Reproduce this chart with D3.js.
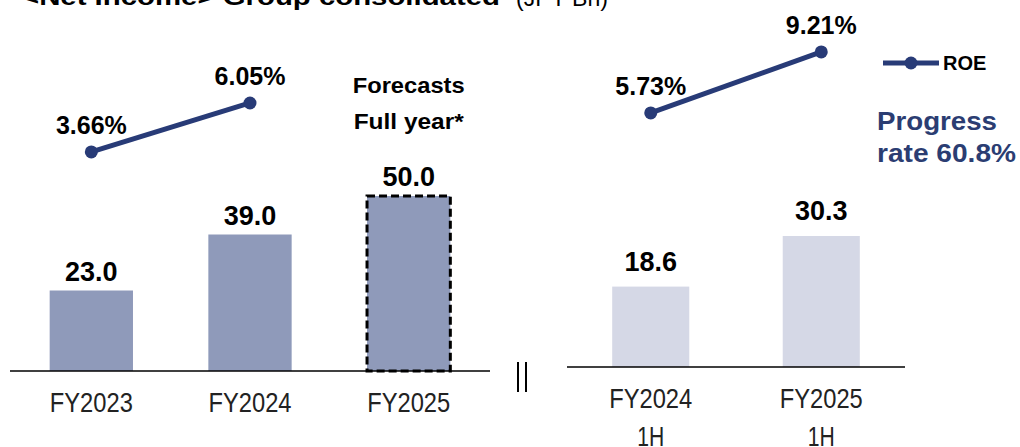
<!DOCTYPE html>
<html>
  <head>
    <meta charset="utf-8">
    <title>Net income</title>
    <style>
      body { margin: 0; background: #fff; }
      text { font-family: "Liberation Sans", Arial, sans-serif; }
    </style>
  </head>
  <body>
    <script src="https://cdn.jsdelivr.net/npm/d3@7"></script>
    <svg id="chart" width="1020" height="447"></svg>
    <script>
      // full year panel
      fullYears = ["FY2023", "FY2024", "FY2025"]
      fullIncome = [23.0, 39.0, 50.0]
      fullRoe = [3.66, 6.05]
      // half year panel
      halfYears = ["FY2024", "FY2025"]
      halfIncome = [18.6, 30.3]
      halfRoe = [5.73, 9.21]

      navy = "#283b77"
      svg = d3.select("#chart")

      // title, clipped at the top like the slide
      svg.append("text").attr("x", 22).attr("y", 5)
        .attr("font-size", 24).attr("font-weight", "bold")
        .attr("textLength", 478).attr("lengthAdjust", "spacingAndGlyphs")
        .text("<Net Income> Group consolidated")
      svg.append("text").attr("x", 516).attr("y", 6)
        .attr("font-size", 22).attr("textLength", 92).attr("lengthAdjust", "spacingAndGlyphs")
        .text("(JPY Bn)")

      function panel(cfg) {
        let x = d3.scaleBand().domain(cfg.cats).range(cfg.xRange)
          .paddingInner(cfg.pi).paddingOuter(cfg.po)
        let y = d3.scaleLinear().domain([0, cfg.yMax]).range([cfg.base, cfg.yTop])
        let r = d3.scaleLinear().domain([0, 10]).range(cfg.roeRange)
        let g = svg.append("g")

        g.selectAll("rect.bar").data(cfg.values).join("rect")
          .attr("class", "bar")
          .attr("x", (d, i) => x(cfg.cats[i]))
          .attr("y", d => y(d))
          .attr("width", x.bandwidth())
          .attr("height", d => cfg.base - y(d))
          .attr("fill", cfg.fill)
          .attr("stroke", (d, i) => cfg.dashed && i == cfg.values.length - 1 ? "#000" : "none")
          .attr("stroke-width", 3)
          .attr("stroke-dasharray", "8,4")

        g.selectAll("text.val").data(cfg.values).join("text")
          .attr("class", "val")
          .attr("x", (d, i) => x(cfg.cats[i]) + x.bandwidth() / 2)
          .attr("y", d => y(d) - cfg.labelGap)
          .attr("text-anchor", "middle")
          .attr("font-size", 27).attr("font-weight", "bold")
          .text(d => d.toFixed(1))

        // baseline
        g.append("line")
          .attr("x1", cfg.xRange[0]).attr("x2", cfg.xRange[1])
          .attr("y1", cfg.base).attr("y2", cfg.base)
          .attr("stroke", "#000").attr("stroke-width", 1.5)

        // category labels
        let cl = g.selectAll("text.cat").data(cfg.cats).join("text")
          .attr("class", "cat")
          .attr("text-anchor", "middle")
          .attr("font-size", 27)
          .attr("fill", "#222")
        cl.append("tspan")
          .attr("x", d => x(d) + x.bandwidth() / 2)
          .attr("y", cfg.base + cfg.catGap)
          .attr("textLength", 83).attr("lengthAdjust", "spacingAndGlyphs")
          .text(d => d)
        if (cfg.sub) {
          cl.append("tspan")
            .attr("x", d => x(d) + x.bandwidth() / 2)
            .attr("y", cfg.base + cfg.catGap + 38)
            .attr("textLength", 27).attr("lengthAdjust", "spacingAndGlyphs")
            .text(cfg.sub)
        }

        // ROE line
        let pts = cfg.roe.map((v, i) => [x(cfg.cats[i]) + x.bandwidth() / 2, r(v)])
        g.append("path")
          .attr("d", d3.line()(pts))
          .attr("fill", "none").attr("stroke", navy).attr("stroke-width", 5)
        g.selectAll("circle").data(pts).join("circle")
          .attr("cx", d => d[0]).attr("cy", d => d[1]).attr("r", 6.5)
          .attr("fill", navy)
        g.selectAll("text.roe").data(cfg.roe).join("text")
          .attr("class", "roe")
          .attr("x", (d, i) => pts[i][0])
          .attr("y", (d, i) => pts[i][1] - 18)
          .attr("text-anchor", "middle")
          .attr("font-size", 25).attr("font-weight", "bold")
          .text(d => d.toFixed(2) + "%")
        return x
      }

      leftX = panel({
        cats: fullYears, values: fullIncome, roe: fullRoe,
        xRange: [10, 490], pi: 0.475, po: 0.25,
        base: 371, yMax: 50, yTop: 196, roeRange: [227, 22],
        fill: "#8f9aba", dashed: true, labelGap: 10, catGap: 41
      })
      rightX = panel({
        cats: halfYears, values: halfIncome, roe: halfRoe,
        xRange: [567, 905], pi: 0.548, po: 0.265,
        base: 367, yMax: 30.3, yTop: 236, roeRange: [213.4, 38.1],
        fill: "#d5d8e6", dashed: false, labelGap: 16, catGap: 41, sub: "1H"
      })

      // forecast note above the last full-year bar
      fx = leftX("FY2025") + leftX.bandwidth() / 2
      svg.selectAll("text.note").data(["Forecasts", "Full year*"]).join("text")
        .attr("class", "note")
        .attr("x", fx).attr("y", (d, i) => 93 + i * 36)
        .attr("text-anchor", "middle")
        .attr("font-size", 22).attr("font-weight", "bold")
        .attr("textLength", (d, i) => i == 0 ? 112 : 110).attr("lengthAdjust", "spacingAndGlyphs")
        .text(d => d)

      // axis break mark
      svg.selectAll("line.brk").data([518, 526]).join("line")
        .attr("class", "brk")
        .attr("x1", d => d).attr("x2", d => d)
        .attr("y1", 362).attr("y2", 392)
        .attr("stroke", "#000").attr("stroke-width", 2)

      // legend
      lg = svg.append("g")
      lg.append("line").attr("x1", 883).attr("x2", 939).attr("y1", 63).attr("y2", 63)
        .attr("stroke", navy).attr("stroke-width", 5)
      lg.append("circle").attr("cx", 911).attr("cy", 63).attr("r", 6.5).attr("fill", navy)
      lg.append("text").attr("x", 943).attr("y", 70)
        .attr("font-size", 20).attr("font-weight", "bold").text("ROE")

      // progress rate note
      svg.selectAll("text.prog").data(["Progress", "rate 60.8%"]).join("text")
        .attr("class", "prog")
        .attr("x", 877).attr("y", (d, i) => 130 + i * 32)
        .attr("font-size", 25).attr("font-weight", "bold").attr("fill", "#2b3d72")
        .attr("textLength", (d, i) => i == 0 ? 120 : 139).attr("lengthAdjust", "spacingAndGlyphs")
        .text(d => d)
    </script>
  </body>
</html>
